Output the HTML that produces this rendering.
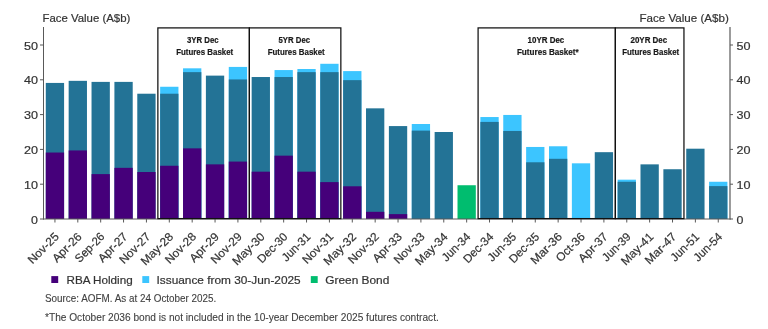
<!DOCTYPE html>
<html><head><meta charset="utf-8">
<style>
html,body{margin:0;padding:0;background:#fff;width:768px;height:329px;overflow:hidden}
svg{position:absolute;left:0;top:0;display:block;will-change:transform}
text{font-family:"Liberation Sans",sans-serif;stroke:#333;stroke-width:0.2px}
.tk{font-size:11.5px;fill:#333}
.xl{font-size:11.7px;fill:#333}
.ttl{font-size:11.4px;fill:#333}
.bx{font-size:8.6px;font-weight:bold;fill:#1a1a1a;stroke:#1a1a1a;stroke-width:0.2px}
.lg{font-size:11.5px;fill:#333}
.src{font-size:10px;fill:#404040;stroke:#404040;stroke-width:0.1px}
</style></head><body>
<svg width="768" height="329" viewBox="0 0 768 329">
<text x="42.5" y="21.9" class="ttl">Face Value (A$b)</text>
<text x="728.8" y="22" text-anchor="end" class="ttl" textLength="89.3" lengthAdjust="spacingAndGlyphs">Face Value (A$b)</text>
<rect x="45.79" y="82.93" width="18.3" height="136.07" fill="#237396"/>
<rect x="45.79" y="152.53" width="18.3" height="66.47" fill="#45007a"/>
<rect x="68.66" y="80.84" width="18.3" height="138.16" fill="#237396"/>
<rect x="68.66" y="150.44" width="18.3" height="68.56" fill="#45007a"/>
<rect x="91.53" y="81.89" width="18.3" height="137.11" fill="#237396"/>
<rect x="91.53" y="174.11" width="18.3" height="44.89" fill="#45007a"/>
<rect x="114.41" y="81.89" width="18.3" height="137.11" fill="#237396"/>
<rect x="114.41" y="167.84" width="18.3" height="51.16" fill="#45007a"/>
<rect x="137.28" y="93.72" width="18.3" height="125.28" fill="#237396"/>
<rect x="137.28" y="172.02" width="18.3" height="46.98" fill="#45007a"/>
<rect x="160.15" y="86.76" width="18.3" height="132.24" fill="#3cc5ff"/>
<rect x="160.15" y="93.72" width="18.3" height="125.28" fill="#237396"/>
<rect x="160.15" y="165.76" width="18.3" height="53.24" fill="#45007a"/>
<rect x="183.03" y="68.32" width="18.3" height="150.68" fill="#3cc5ff"/>
<rect x="183.03" y="72.14" width="18.3" height="146.86" fill="#237396"/>
<rect x="183.03" y="148.36" width="18.3" height="70.64" fill="#45007a"/>
<rect x="205.9" y="75.62" width="18.3" height="143.38" fill="#237396"/>
<rect x="205.9" y="164.36" width="18.3" height="54.64" fill="#45007a"/>
<rect x="228.77" y="66.92" width="18.3" height="152.08" fill="#3cc5ff"/>
<rect x="228.77" y="79.45" width="18.3" height="139.55" fill="#237396"/>
<rect x="228.77" y="161.58" width="18.3" height="57.42" fill="#45007a"/>
<rect x="251.65" y="77.02" width="18.3" height="141.98" fill="#237396"/>
<rect x="251.65" y="171.67" width="18.3" height="47.33" fill="#45007a"/>
<rect x="274.52" y="70.06" width="18.3" height="148.94" fill="#3cc5ff"/>
<rect x="274.52" y="77.02" width="18.3" height="141.98" fill="#237396"/>
<rect x="274.52" y="155.66" width="18.3" height="63.34" fill="#45007a"/>
<rect x="297.39" y="69.01" width="18.3" height="149.99" fill="#3cc5ff"/>
<rect x="297.39" y="72.14" width="18.3" height="146.86" fill="#237396"/>
<rect x="297.39" y="171.67" width="18.3" height="47.33" fill="#45007a"/>
<rect x="320.27" y="63.79" width="18.3" height="155.21" fill="#3cc5ff"/>
<rect x="320.27" y="72.14" width="18.3" height="146.86" fill="#237396"/>
<rect x="320.27" y="182.11" width="18.3" height="36.89" fill="#45007a"/>
<rect x="343.14" y="71.1" width="18.3" height="147.9" fill="#3cc5ff"/>
<rect x="343.14" y="80.15" width="18.3" height="138.85" fill="#237396"/>
<rect x="343.14" y="186.29" width="18.3" height="32.71" fill="#45007a"/>
<rect x="366.01" y="108.34" width="18.3" height="110.66" fill="#237396"/>
<rect x="366.01" y="211.8" width="18.3" height="7.2" fill="#45007a"/>
<rect x="388.89" y="126.08" width="18.3" height="92.92" fill="#237396"/>
<rect x="388.89" y="214.13" width="18.3" height="4.87" fill="#45007a"/>
<rect x="411.76" y="124" width="18.3" height="95" fill="#3cc5ff"/>
<rect x="411.76" y="130.61" width="18.3" height="88.39" fill="#237396"/>
<rect x="434.63" y="132" width="18.3" height="87" fill="#237396"/>
<rect x="457.51" y="185.24" width="18.3" height="33.76" fill="#00bd6f"/>
<rect x="480.38" y="117.04" width="18.3" height="101.96" fill="#3cc5ff"/>
<rect x="480.38" y="121.91" width="18.3" height="97.09" fill="#237396"/>
<rect x="503.25" y="114.95" width="18.3" height="104.05" fill="#3cc5ff"/>
<rect x="503.25" y="130.96" width="18.3" height="88.04" fill="#237396"/>
<rect x="526.13" y="146.96" width="18.3" height="72.04" fill="#3cc5ff"/>
<rect x="526.13" y="162.28" width="18.3" height="56.72" fill="#237396"/>
<rect x="549" y="146.27" width="18.3" height="72.73" fill="#3cc5ff"/>
<rect x="549" y="158.8" width="18.3" height="60.2" fill="#237396"/>
<rect x="571.87" y="163.32" width="18.3" height="55.68" fill="#3cc5ff"/>
<rect x="594.75" y="152.18" width="18.3" height="66.82" fill="#237396"/>
<rect x="617.62" y="179.68" width="18.3" height="39.32" fill="#3cc5ff"/>
<rect x="617.62" y="181.76" width="18.3" height="37.24" fill="#237396"/>
<rect x="640.49" y="164.36" width="18.3" height="54.64" fill="#237396"/>
<rect x="663.37" y="169.24" width="18.3" height="49.76" fill="#237396"/>
<rect x="686.24" y="148.7" width="18.3" height="70.3" fill="#237396"/>
<rect x="709.11" y="181.76" width="18.3" height="37.24" fill="#3cc5ff"/>
<rect x="709.11" y="186.11" width="18.3" height="32.89" fill="#237396"/>
<line x1="43.5" y1="27" x2="43.5" y2="219.5" stroke="#595959" stroke-width="1"/>
<line x1="730.0" y1="27" x2="730.0" y2="219.5" stroke="#595959" stroke-width="1.2"/>
<line x1="43.0" y1="219.0" x2="730.5" y2="219.0" stroke="#595959" stroke-width="1"/>
<line x1="40.0" y1="219" x2="43.5" y2="219" stroke="#595959" stroke-width="1"/>
<line x1="730.0" y1="219" x2="733.0" y2="219" stroke="#595959" stroke-width="1"/>
<text x="38" y="223.5" text-anchor="end" class="tk" textLength="6.9" lengthAdjust="spacingAndGlyphs">0</text>
<text x="736.4" y="223.5" text-anchor="start" class="tk" textLength="6.9" lengthAdjust="spacingAndGlyphs">0</text>
<line x1="40.0" y1="184.2" x2="43.5" y2="184.2" stroke="#595959" stroke-width="1"/>
<line x1="730.0" y1="184.2" x2="733.0" y2="184.2" stroke="#595959" stroke-width="1"/>
<text x="38" y="188.7" text-anchor="end" class="tk" textLength="14.0" lengthAdjust="spacingAndGlyphs">10</text>
<text x="736.4" y="188.7" text-anchor="start" class="tk" textLength="14.0" lengthAdjust="spacingAndGlyphs">10</text>
<line x1="40.0" y1="149.4" x2="43.5" y2="149.4" stroke="#595959" stroke-width="1"/>
<line x1="730.0" y1="149.4" x2="733.0" y2="149.4" stroke="#595959" stroke-width="1"/>
<text x="38" y="153.9" text-anchor="end" class="tk" textLength="14.0" lengthAdjust="spacingAndGlyphs">20</text>
<text x="736.4" y="153.9" text-anchor="start" class="tk" textLength="14.0" lengthAdjust="spacingAndGlyphs">20</text>
<line x1="40.0" y1="114.6" x2="43.5" y2="114.6" stroke="#595959" stroke-width="1"/>
<line x1="730.0" y1="114.6" x2="733.0" y2="114.6" stroke="#595959" stroke-width="1"/>
<text x="38" y="119.1" text-anchor="end" class="tk" textLength="14.0" lengthAdjust="spacingAndGlyphs">30</text>
<text x="736.4" y="119.1" text-anchor="start" class="tk" textLength="14.0" lengthAdjust="spacingAndGlyphs">30</text>
<line x1="40.0" y1="79.8" x2="43.5" y2="79.8" stroke="#595959" stroke-width="1"/>
<line x1="730.0" y1="79.8" x2="733.0" y2="79.8" stroke="#595959" stroke-width="1"/>
<text x="38" y="84.3" text-anchor="end" class="tk" textLength="14.0" lengthAdjust="spacingAndGlyphs">40</text>
<text x="736.4" y="84.3" text-anchor="start" class="tk" textLength="14.0" lengthAdjust="spacingAndGlyphs">40</text>
<line x1="40.0" y1="45" x2="43.5" y2="45" stroke="#595959" stroke-width="1"/>
<line x1="730.0" y1="45" x2="733.0" y2="45" stroke="#595959" stroke-width="1"/>
<text x="38" y="49.5" text-anchor="end" class="tk" textLength="14.0" lengthAdjust="spacingAndGlyphs">50</text>
<text x="736.4" y="49.5" text-anchor="start" class="tk" textLength="14.0" lengthAdjust="spacingAndGlyphs">50</text>
<line x1="54.94" y1="219.0" x2="54.94" y2="222.5" stroke="#595959" stroke-width="1"/>
<text transform="translate(56.74,234.6) rotate(-45)" x="0" y="4" text-anchor="end" class="xl" textLength="38.29" lengthAdjust="spacingAndGlyphs">Nov-25</text>
<line x1="77.81" y1="219.0" x2="77.81" y2="222.5" stroke="#595959" stroke-width="1"/>
<text transform="translate(79.61,234.6) rotate(-45)" x="0" y="4" text-anchor="end" class="xl" textLength="36.04" lengthAdjust="spacingAndGlyphs">Apr-26</text>
<line x1="100.68" y1="219.0" x2="100.68" y2="222.5" stroke="#595959" stroke-width="1"/>
<text transform="translate(102.48,234.6) rotate(-45)" x="0" y="4" text-anchor="end" class="xl" textLength="36.43" lengthAdjust="spacingAndGlyphs">Sep-26</text>
<line x1="123.56" y1="219.0" x2="123.56" y2="222.5" stroke="#595959" stroke-width="1"/>
<text transform="translate(125.36,234.6) rotate(-45)" x="0" y="4" text-anchor="end" class="xl" textLength="36.04" lengthAdjust="spacingAndGlyphs">Apr-27</text>
<line x1="146.43" y1="219.0" x2="146.43" y2="222.5" stroke="#595959" stroke-width="1"/>
<text transform="translate(148.23,234.6) rotate(-45)" x="0" y="4" text-anchor="end" class="xl" textLength="38.29" lengthAdjust="spacingAndGlyphs">Nov-27</text>
<line x1="169.3" y1="219.0" x2="169.3" y2="222.5" stroke="#595959" stroke-width="1"/>
<text transform="translate(171.1,234.6) rotate(-45)" x="0" y="4" text-anchor="end" class="xl" textLength="40.38" lengthAdjust="spacingAndGlyphs">May-28</text>
<line x1="192.18" y1="219.0" x2="192.18" y2="222.5" stroke="#595959" stroke-width="1"/>
<text transform="translate(193.98,234.6) rotate(-45)" x="0" y="4" text-anchor="end" class="xl" textLength="38.29" lengthAdjust="spacingAndGlyphs">Nov-28</text>
<line x1="215.05" y1="219.0" x2="215.05" y2="222.5" stroke="#595959" stroke-width="1"/>
<text transform="translate(216.85,234.6) rotate(-45)" x="0" y="4" text-anchor="end" class="xl" textLength="36.04" lengthAdjust="spacingAndGlyphs">Apr-29</text>
<line x1="237.92" y1="219.0" x2="237.92" y2="222.5" stroke="#595959" stroke-width="1"/>
<text transform="translate(239.72,234.6) rotate(-45)" x="0" y="4" text-anchor="end" class="xl" textLength="38.29" lengthAdjust="spacingAndGlyphs">Nov-29</text>
<line x1="260.8" y1="219.0" x2="260.8" y2="222.5" stroke="#595959" stroke-width="1"/>
<text transform="translate(262.6,234.6) rotate(-45)" x="0" y="4" text-anchor="end" class="xl" textLength="40.38" lengthAdjust="spacingAndGlyphs">May-30</text>
<line x1="283.67" y1="219.0" x2="283.67" y2="222.5" stroke="#595959" stroke-width="1"/>
<text transform="translate(285.47,234.6) rotate(-45)" x="0" y="4" text-anchor="end" class="xl" textLength="37.12" lengthAdjust="spacingAndGlyphs">Dec-30</text>
<line x1="306.54" y1="219.0" x2="306.54" y2="222.5" stroke="#595959" stroke-width="1"/>
<text transform="translate(308.34,234.6) rotate(-45)" x="0" y="4" text-anchor="end" class="xl" textLength="34.96" lengthAdjust="spacingAndGlyphs">Jun-31</text>
<line x1="329.42" y1="219.0" x2="329.42" y2="222.5" stroke="#595959" stroke-width="1"/>
<text transform="translate(331.22,234.6) rotate(-45)" x="0" y="4" text-anchor="end" class="xl" textLength="38.29" lengthAdjust="spacingAndGlyphs">Nov-31</text>
<line x1="352.29" y1="219.0" x2="352.29" y2="222.5" stroke="#595959" stroke-width="1"/>
<text transform="translate(354.09,234.6) rotate(-45)" x="0" y="4" text-anchor="end" class="xl" textLength="40.38" lengthAdjust="spacingAndGlyphs">May-32</text>
<line x1="375.16" y1="219.0" x2="375.16" y2="222.5" stroke="#595959" stroke-width="1"/>
<text transform="translate(376.96,234.6) rotate(-45)" x="0" y="4" text-anchor="end" class="xl" textLength="38.29" lengthAdjust="spacingAndGlyphs">Nov-32</text>
<line x1="398.04" y1="219.0" x2="398.04" y2="222.5" stroke="#595959" stroke-width="1"/>
<text transform="translate(399.84,234.6) rotate(-45)" x="0" y="4" text-anchor="end" class="xl" textLength="36.04" lengthAdjust="spacingAndGlyphs">Apr-33</text>
<line x1="420.91" y1="219.0" x2="420.91" y2="222.5" stroke="#595959" stroke-width="1"/>
<text transform="translate(422.71,234.6) rotate(-45)" x="0" y="4" text-anchor="end" class="xl" textLength="38.29" lengthAdjust="spacingAndGlyphs">Nov-33</text>
<line x1="443.78" y1="219.0" x2="443.78" y2="222.5" stroke="#595959" stroke-width="1"/>
<text transform="translate(445.58,234.6) rotate(-45)" x="0" y="4" text-anchor="end" class="xl" textLength="40.38" lengthAdjust="spacingAndGlyphs">May-34</text>
<line x1="466.66" y1="219.0" x2="466.66" y2="222.5" stroke="#595959" stroke-width="1"/>
<text transform="translate(468.46,234.6) rotate(-45)" x="0" y="4" text-anchor="end" class="xl" textLength="34.96" lengthAdjust="spacingAndGlyphs">Jun-34</text>
<line x1="489.53" y1="219.0" x2="489.53" y2="222.5" stroke="#595959" stroke-width="1"/>
<text transform="translate(491.33,234.6) rotate(-45)" x="0" y="4" text-anchor="end" class="xl" textLength="37.12" lengthAdjust="spacingAndGlyphs">Dec-34</text>
<line x1="512.4" y1="219.0" x2="512.4" y2="222.5" stroke="#595959" stroke-width="1"/>
<text transform="translate(514.2,234.6) rotate(-45)" x="0" y="4" text-anchor="end" class="xl" textLength="34.96" lengthAdjust="spacingAndGlyphs">Jun-35</text>
<line x1="535.28" y1="219.0" x2="535.28" y2="222.5" stroke="#595959" stroke-width="1"/>
<text transform="translate(537.08,234.6) rotate(-45)" x="0" y="4" text-anchor="end" class="xl" textLength="37.12" lengthAdjust="spacingAndGlyphs">Dec-35</text>
<line x1="558.15" y1="219.0" x2="558.15" y2="222.5" stroke="#595959" stroke-width="1"/>
<text transform="translate(559.95,234.6) rotate(-45)" x="0" y="4" text-anchor="end" class="xl" textLength="39.03" lengthAdjust="spacingAndGlyphs">Mar-36</text>
<line x1="581.02" y1="219.0" x2="581.02" y2="222.5" stroke="#595959" stroke-width="1"/>
<text transform="translate(582.82,234.6) rotate(-45)" x="0" y="4" text-anchor="end" class="xl" textLength="35.62" lengthAdjust="spacingAndGlyphs">Oct-36</text>
<line x1="603.9" y1="219.0" x2="603.9" y2="222.5" stroke="#595959" stroke-width="1"/>
<text transform="translate(605.7,234.6) rotate(-45)" x="0" y="4" text-anchor="end" class="xl" textLength="36.04" lengthAdjust="spacingAndGlyphs">Apr-37</text>
<line x1="626.77" y1="219.0" x2="626.77" y2="222.5" stroke="#595959" stroke-width="1"/>
<text transform="translate(628.57,234.6) rotate(-45)" x="0" y="4" text-anchor="end" class="xl" textLength="34.96" lengthAdjust="spacingAndGlyphs">Jun-39</text>
<line x1="649.64" y1="219.0" x2="649.64" y2="222.5" stroke="#595959" stroke-width="1"/>
<text transform="translate(651.44,234.6) rotate(-45)" x="0" y="4" text-anchor="end" class="xl" textLength="40.38" lengthAdjust="spacingAndGlyphs">May-41</text>
<line x1="672.52" y1="219.0" x2="672.52" y2="222.5" stroke="#595959" stroke-width="1"/>
<text transform="translate(674.32,234.6) rotate(-45)" x="0" y="4" text-anchor="end" class="xl" textLength="39.03" lengthAdjust="spacingAndGlyphs">Mar-47</text>
<line x1="695.39" y1="219.0" x2="695.39" y2="222.5" stroke="#595959" stroke-width="1"/>
<text transform="translate(697.19,234.6) rotate(-45)" x="0" y="4" text-anchor="end" class="xl" textLength="34.96" lengthAdjust="spacingAndGlyphs">Jun-51</text>
<line x1="718.26" y1="219.0" x2="718.26" y2="222.5" stroke="#595959" stroke-width="1"/>
<text transform="translate(720.06,234.6) rotate(-45)" x="0" y="4" text-anchor="end" class="xl" textLength="34.96" lengthAdjust="spacingAndGlyphs">Jun-54</text>
<rect x="157.87" y="27.9" width="91.49" height="190.7" fill="none" stroke="#111" stroke-width="1.25"/>
<text x="202.81" y="42.7" text-anchor="middle" class="bx" textLength="31.6" lengthAdjust="spacingAndGlyphs">3YR Dec</text>
<text x="204.71" y="54.7" text-anchor="middle" class="bx" textLength="57.0" lengthAdjust="spacingAndGlyphs">Futures Basket</text>
<rect x="249.36" y="27.9" width="91.49" height="190.7" fill="none" stroke="#111" stroke-width="1.25"/>
<text x="294.31" y="42.7" text-anchor="middle" class="bx" textLength="31.6" lengthAdjust="spacingAndGlyphs">5YR Dec</text>
<text x="296.21" y="54.7" text-anchor="middle" class="bx" textLength="57.0" lengthAdjust="spacingAndGlyphs">Futures Basket</text>
<rect x="478.09" y="27.9" width="137.24" height="190.7" fill="none" stroke="#111" stroke-width="1.25"/>
<text x="545.91" y="42.7" text-anchor="middle" class="bx" textLength="36.7" lengthAdjust="spacingAndGlyphs">10YR Dec</text>
<text x="547.81" y="54.7" text-anchor="middle" class="bx" textLength="61.8" lengthAdjust="spacingAndGlyphs">Futures Basket*</text>
<rect x="615.33" y="27.9" width="68.62" height="190.7" fill="none" stroke="#111" stroke-width="1.25"/>
<text x="648.84" y="42.7" text-anchor="middle" class="bx" textLength="36.7" lengthAdjust="spacingAndGlyphs">20YR Dec</text>
<text x="650.74" y="54.7" text-anchor="middle" class="bx" textLength="57.0" lengthAdjust="spacingAndGlyphs">Futures Basket</text>
<rect x="51.3" y="276.1" width="6.9" height="6.9" fill="#45007a"/>
<text x="66.5" y="284.4" class="lg" textLength="66.2" lengthAdjust="spacingAndGlyphs">RBA Holding</text>
<rect x="142.3" y="276.1" width="6.9" height="6.9" fill="#3cc5ff"/>
<text x="156.5" y="284.4" class="lg" textLength="144.2" lengthAdjust="spacingAndGlyphs">Issuance from 30-Jun-2025</text>
<rect x="310.8" y="276.1" width="6.9" height="6.9" fill="#00bd6f"/>
<text x="325.3" y="284.4" class="lg" textLength="64" lengthAdjust="spacingAndGlyphs">Green Bond</text>
<text x="45" y="302" class="src" textLength="171.3" lengthAdjust="spacingAndGlyphs">Source: AOFM. As at 24 October 2025.</text>
<text x="45" y="321.3" class="src" textLength="393.8" lengthAdjust="spacingAndGlyphs">*The October 2036 bond is not included in the 10-year December 2025 futures contract.</text>
</svg>
</body></html>
